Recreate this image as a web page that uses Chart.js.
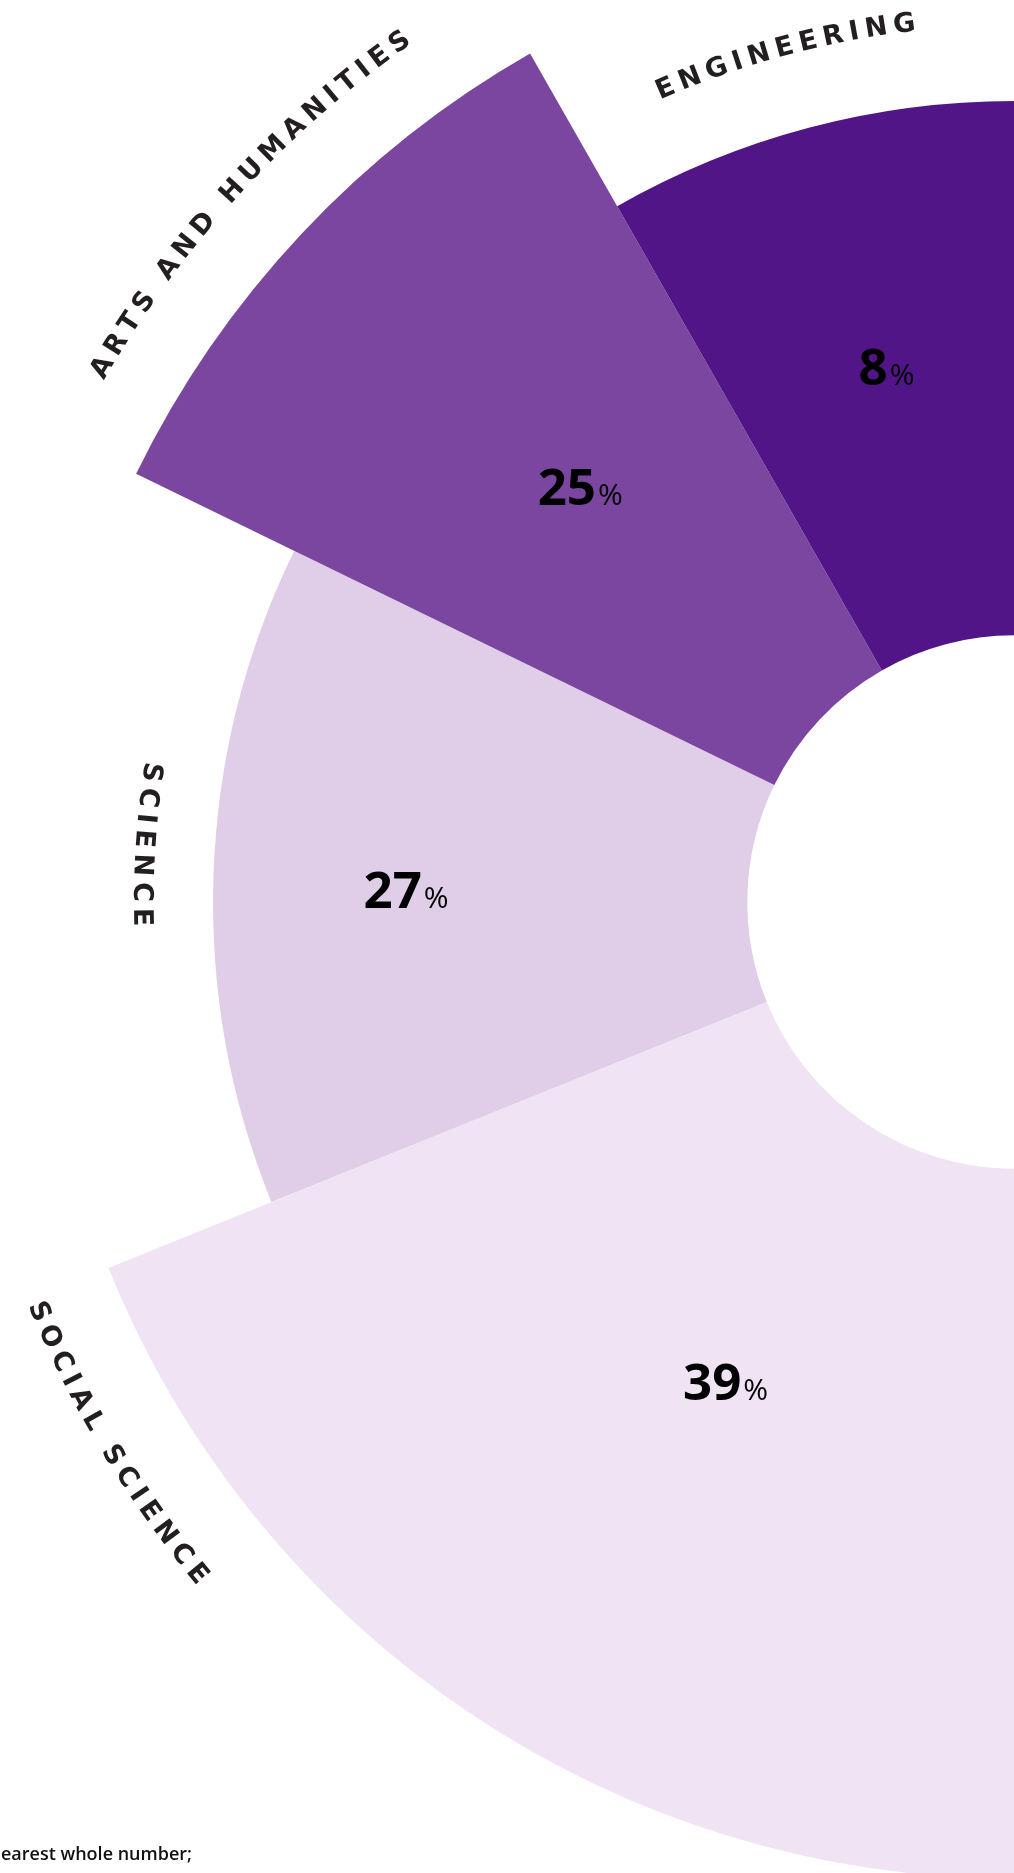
<!DOCTYPE html>
<html>
<head>
<meta charset="utf-8">
<script src="https://cdn.jsdelivr.net/npm/chart.js@4.4.1/dist/chart.umd.min.js"></script>
<style>
  html, body { margin: 0; padding: 0; background: #fff; }
  body { width: 1014px; height: 1873px; overflow: hidden; position: relative; }
  #wrap { position: absolute; left: -36px; top: -148px; width: 2100px; height: 2100px; }
  .note { position: absolute; right: 822px; top: 1845px; font: 600 18px "Open Sans", sans-serif; line-height: 17px; white-space: nowrap; color: #111; }
</style>
</head>
<body>
<div id="wrap"><canvas id="myChart" width="2100" height="2100"></canvas></div>
<div class="note">Percentages are rounded to the nearest whole number;</div>
<script>
'use strict';

// drawn clockwise starting at the bottom, so the lists run bottom -> top
let categories = ['SOCIAL SCIENCE', 'SCIENCE', 'ARTS AND HUMANITIES', 'ENGINEERING'];
let shares = [39, 27, 25, 8];            // printed percentages
let sweep = [68, 48, 34.3, 29.7];        // degrees of arc for each field
let reach = [100, 82, 100, 82];          // relative outer radius
let hole = 27.3;                         // inner radius, same units as reach

let colors = ['#f0e4f4', '#e0cee8', '#7a46a0', '#521588'];

// label placement: angle from the top (counter-clockwise, degrees), distance in px
let pctSpot = [[149, 560], [88.9, 608], [46.3, 600], [13.4, 550]];
let nameSpot = [[121.1, 1058, true], [86.2, 873, true], [47.6, 1056, false], [15.1, 884, false]];
let LETTER_GAP = 6;

function toCanvasAngle(a) {
  return (-90 - a) * Math.PI / 180;
}

function arcText(ctx, text, cx, cy, radius, mid, flipped) {
  let chars = [...text];
  let widths = chars.map(ch => ctx.measureText(ch).width + LETTER_GAP);
  let total = widths.reduce((a, b) => a + b, 0) - LETTER_GAP;
  let dir = flipped ? -1 : 1;
  let theta = mid - dir * total / 2 / radius;
  chars.forEach((ch, i) => {
    let half = (widths[i] - LETTER_GAP) / 2;
    let t = theta + dir * half / radius;
    ctx.save();
    ctx.translate(cx + radius * Math.cos(t), cy + radius * Math.sin(t));
    ctx.rotate(t + dir * Math.PI / 2);
    ctx.fillText(ch, 0, 0);
    ctx.restore();
    theta += dir * widths[i] / radius;
  });
}

const ringPlugin = {
  id: 'ring',
  afterDatasetUpdate(chart) {
    let inner = chart.scales.r.getDistanceFromCenterForValue(hole);
    chart.getDatasetMeta(0).data.forEach(arc => { arc.innerRadius = inner; });
  },
  afterDatasetsDraw(chart) {
    let ctx = chart.ctx;
    let scale = chart.scales.r;
    let cx = scale.xCenter, cy = scale.yCenter;
    ctx.save();
    // percentages
    for (let i = 0; i < shares.length; i++) {
      let t = toCanvasAngle(pctSpot[i][0]);
      let x = cx + pctSpot[i][1] * Math.cos(t);
      let y = cy + pctSpot[i][1] * Math.sin(t);
      let num = String(shares[i]);
      ctx.font = '700 51px "Open Sans"';
      let numW = ctx.measureText(num).width;
      ctx.font = '400 30px "Open Sans"';
      let pctW = ctx.measureText('%').width;
      let x0 = x - (numW + 2 + pctW) / 2;
      ctx.fillStyle = '#000';
      ctx.textAlign = 'left';
      ctx.textBaseline = 'alphabetic';
      ctx.font = '700 51px "Open Sans"';
      ctx.fillText(num, x0, y + 18);
      ctx.font = '400 30px "Open Sans"';
      ctx.fillText('%', x0 + numW + 2, y + 18);
    }
    // curved category names
    ctx.fillStyle = '#231f20';
    ctx.font = 'bold 27px "DejaVu Sans"';
    ctx.textAlign = 'center';
    ctx.textBaseline = 'middle';
    for (let i = 0; i < categories.length; i++) {
      arcText(ctx, categories[i], cx, cy, nameSpot[i][1], toCanvasAngle(nameSpot[i][0]), nameSpot[i][2]);
    }
    ctx.restore();
  }
};

let ctx = document.getElementById('myChart').getContext('2d');
new Chart(ctx, {
  type: 'polarArea',
  data: {
    labels: categories,
    datasets: [{
      data: reach,
      angle: sweep,
      backgroundColor: colors,
      borderWidth: 0
    }]
  },
  options: {
    responsive: false,
    animation: false,
    layout: { padding: 0 },
    plugins: {
      legend: { display: false },
      tooltip: { enabled: false }
    },
    scales: {
      r: {
        min: 0,
        max: 107.5,
        startAngle: 180,
        ticks: { display: false },
        grid: { display: false },
        angleLines: { display: false },
        pointLabels: { display: false }
      }
    }
  },
  plugins: [ringPlugin]
});
</script>
</body>
</html>
